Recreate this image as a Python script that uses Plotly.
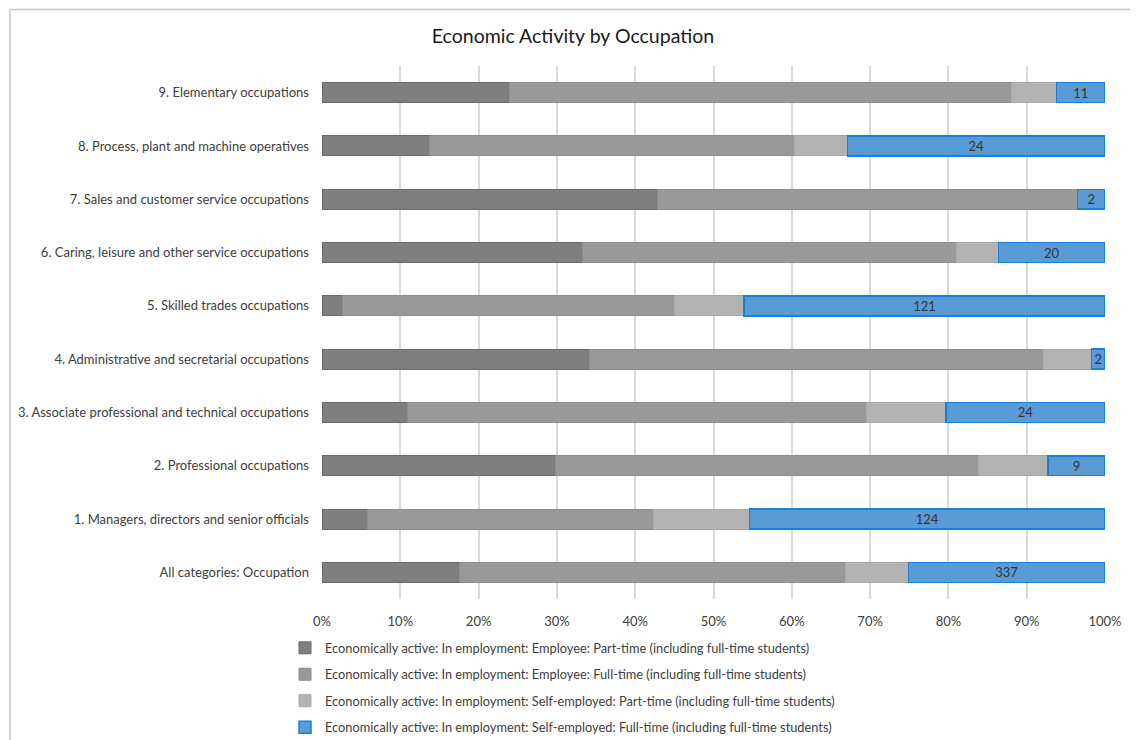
import plotly.graph_objects as go

categories = [
    "All categories: Occupation",
    "1. Managers, directors and senior officials",
    "2. Professional occupations",
    "3. Associate professional and technical occupations",
    "4. Administrative and secretarial occupations",
    "5. Skilled trades occupations",
    "6. Caring, leisure and other service occupations",
    "7. Sales and customer service occupations",
    "8. Process, plant and machine operatives",
    "9. Elementary occupations",
]

series_names = [
    "Economically active: In employment: Employee: Part-time (including full-time students)",
    "Economically active: In employment: Employee: Full-time (including full-time students)",
    "Economically active: In employment: Self-employed: Part-time (including full-time students)",
    "Economically active: In employment: Self-employed: Full-time (including full-time students)",
]

# percentage shares (bottom row first)
emp_part = [17.6, 5.8, 29.8, 10.9, 34.1, 2.6, 33.3, 42.8, 13.7, 23.9]
emp_full = [49.2, 36.6, 54.1, 58.7, 58.1, 42.4, 47.7, 53.7, 46.6, 64.2]
self_part = [8.1, 12.2, 8.8, 10.1, 6.1, 8.9, 5.4, 0.0, 6.8, 5.7]
self_full = [25.1, 45.4, 7.3, 20.3, 1.7, 46.1, 13.6, 3.5, 32.9, 6.2]

# counts shown as labels on the self-employed full-time segments
self_full_labels = ["337", "124", "9", "24", "2", "121", "20", "2", "24", "11"]

x_ticks = [0, 10, 20, 30, 40, 50, 60, 70, 80, 90, 100]
x_tick_labels = ["0%", "10%", "20%", "30%", "40%", "50%", "60%", "70%", "80%", "90%", "100%"]

FONT = "Lato, 'Open Sans', sans-serif"

fills = ["#7f7f7f", "#999999", "#b3b3b3", "#5b9bd5"]
edges = ["#6a6a6a", "#8c8c8c", "#a8a8a8", "#1a7fd6"]
edge_w = [1, 1, 1, 1.5]

# figure geometry (page has an 8px body margin)
W, H = 1130, 732
L, T, R, B = 314, 58, 33, 141
PW, PH = W - L - R, H - T - B


def px(x):
    return (x - L) / PW


def py(y):
    return (H - B - y) / PH


fig = go.Figure()
data = [emp_part, emp_full, self_part, self_full]
for i, (name, vals) in enumerate(zip(series_names, data)):
    kw = {}
    if i == 3:
        kw = dict(text=self_full_labels, textposition="inside",
                  insidetextanchor="middle", textangle=0,
                  constraintext="none",
                  textfont=dict(color="#333333", size=13, family=FONT))
    fig.add_trace(go.Bar(
        y=categories, x=vals, name=name, orientation="h",
        marker=dict(color=fills[i], line=dict(color=edges[i], width=edge_w[i])),
        legendgroup=f"g{i}", hoverinfo="skip", **kw))

fig.update_layout(
    width=W, height=H,
    barmode="stack", bargap=0.625,
    paper_bgcolor="white", plot_bgcolor="white",
    margin=dict(l=L, r=R, t=T, b=B, autoexpand=False),
    font=dict(family=FONT, size=13, color="#404040"),
    title=dict(text="Economic Activity by Occupation", x=0.5, xanchor="center",
               xref="container", y=1 - 28 / H, yanchor="middle",
               font=dict(size=19.5, color="#1a1a1a", family=FONT)),
    showlegend=True,
    legend=dict(orientation="v", x=px(277), xanchor="left", y=py(625), yanchor="top",
                traceorder="grouped", tracegroupgap=6.8,
                font=dict(size=12.8, color="#404040", family=FONT),
                itemwidth=30),
    xaxis=dict(range=[0, 100], tickvals=x_ticks, ticktext=x_tick_labels,
               showgrid=True, gridcolor="#d9d9d9", gridwidth=1.5,
               zeroline=False, showline=False, ticks="", fixedrange=True,
               ticklabelstandoff=13,
               tickfont=dict(size=13, color="#404040")),
    yaxis=dict(showgrid=False, zeroline=False, showline=False, ticks="",
               ticklabelstandoff=12, tickfont=dict(size=13, color="#404040"),
               categoryorder="array", categoryarray=categories),
    shapes=[
        dict(type="line", xref="paper", yref="paper",
             x0=px(2), x1=px(1129), y0=py(1.5), y1=py(1.5),
             line=dict(color="#c8c8c8", width=1.5)),
        dict(type="line", xref="paper", yref="paper",
             x0=px(2), x1=px(2), y0=py(H), y1=py(1.5),
             line=dict(color="#c8c8c8", width=1.5)),
        dict(type="line", xref="paper", yref="paper",
             x0=px(1129), x1=px(1129), y0=py(H), y1=py(1.5),
             line=dict(color="#c8c8c8", width=1.5)),
    ],
)

fig.write_html("out.html")
